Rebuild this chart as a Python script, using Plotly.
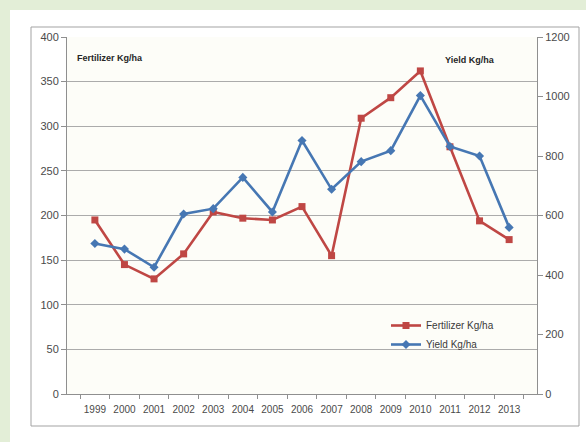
import plotly.graph_objects as go

# Fertilizer use and crop yield per hectare, 1999-2013
years = [str(y) for y in range(1999, 2014)]
fertilizer_kg_ha = [195, 145, 129, 157, 204, 197, 195, 210, 155, 309, 332, 362, 277, 194, 173]
yield_kg_ha = [506, 487, 426, 605, 623, 728, 612, 852, 688, 781, 818, 1003, 832, 800, 560]

W, H = 586, 442
PLOT_L, PLOT_R, PLOT_T, PLOT_B = 67, 537, 37, 394

RED = "#bf4744"
BLUE = "#4677b3"
GRID = "#ababab"
AXIS = "#8f8f8f"
FONT = "Liberation Sans, Arial, sans-serif"
TICK_FONT = dict(family=FONT, size=11, color="#4a4a4a")


def px_x(px):
    return (px - PLOT_L) / (PLOT_R - PLOT_L)


def px_y(py):
    return (PLOT_B - py) / (PLOT_B - PLOT_T)


fig = go.Figure()

fig.add_trace(go.Scatter(
    x=years, y=fertilizer_kg_ha, name="Fertilizer Kg/ha", mode="lines+markers",
    line=dict(color=RED, width=2.6),
    marker=dict(symbol="square", size=7, color=RED),
))
fig.add_trace(go.Scatter(
    x=years, y=yield_kg_ha, name="Yield Kg/ha", mode="lines+markers", yaxis="y2",
    line=dict(color=BLUE, width=2.6),
    marker=dict(symbol="diamond", size=7, color=BLUE),
))

shapes = [
    # white card on the green page
    dict(type="rect", xref="paper", yref="paper", layer="below",
         x0=px_x(10), x1=px_x(W + 2), y0=px_y(H + 2), y1=px_y(10),
         fillcolor="white", line=dict(width=0)),
    # chart area frame
    dict(type="rect", xref="paper", yref="paper", layer="below",
         x0=px_x(31), x1=px_x(579), y0=px_y(426), y1=px_y(27),
         fillcolor="white", line=dict(color="#a3a3a3", width=1)),
    # plot area fill
    dict(type="rect", xref="paper", yref="paper", layer="below",
         x0=0, x1=1, y0=0, y1=1,
         fillcolor="#fdfdf8", line=dict(width=0)),
]

annotations = [
    dict(text="<b>Fertilizer Kg/ha</b>", xref="paper", yref="paper",
         x=px_x(75), y=px_y(58), xanchor="left", yanchor="middle", showarrow=False,
         font=dict(family=FONT, size=9, color="#262626")),
    dict(text="<b>Yield Kg/ha</b>", xref="paper", yref="paper",
         x=px_x(443), y=px_y(60), xanchor="left", yanchor="middle", showarrow=False,
         font=dict(family=FONT, size=9, color="#262626")),
]

fig.update_layout(
    width=W, height=H,
    margin=dict(l=PLOT_L, r=W - PLOT_R, t=PLOT_T, b=H - PLOT_B, pad=0),
    paper_bgcolor="#e3eed7",
    plot_bgcolor="rgba(0,0,0,0)",
    shapes=shapes,
    annotations=annotations,
    showlegend=True,
    legend=dict(
        x=px_x(386), y=px_y(311), xanchor="left", yanchor="top",
        bgcolor="rgba(0,0,0,0)", borderwidth=0,
        font=dict(family=FONT, size=10, color="#3a3a3a"),
        tracegroupgap=0, itemwidth=30,
    ),
    xaxis=dict(
        type="category", categoryorder="array", categoryarray=years,
        showgrid=False, showline=True, linecolor=AXIS, linewidth=1,
        ticks="outside", tickson="boundaries", ticklen=4, tickcolor=AXIS,
        tickfont=dict(family=FONT, size=10, color="#4a4a4a"),
        tickangle=0, ticklabelstandoff=6,
    ),
    yaxis=dict(
        range=[0, 400], dtick=50, showgrid=True, gridcolor=GRID, gridwidth=1,
        zeroline=False, showline=True, linecolor=AXIS, linewidth=1,
        ticks="outside", ticklen=5, tickcolor=AXIS, tickfont=TICK_FONT,
    ),
    yaxis2=dict(
        range=[0, 1200], dtick=200, overlaying="y", side="right",
        showgrid=False, zeroline=False, showline=True, linecolor=AXIS, linewidth=1,
        ticks="outside", ticklen=5, tickcolor=AXIS, tickfont=TICK_FONT,
    ),
)

fig.write_html("out.html")
